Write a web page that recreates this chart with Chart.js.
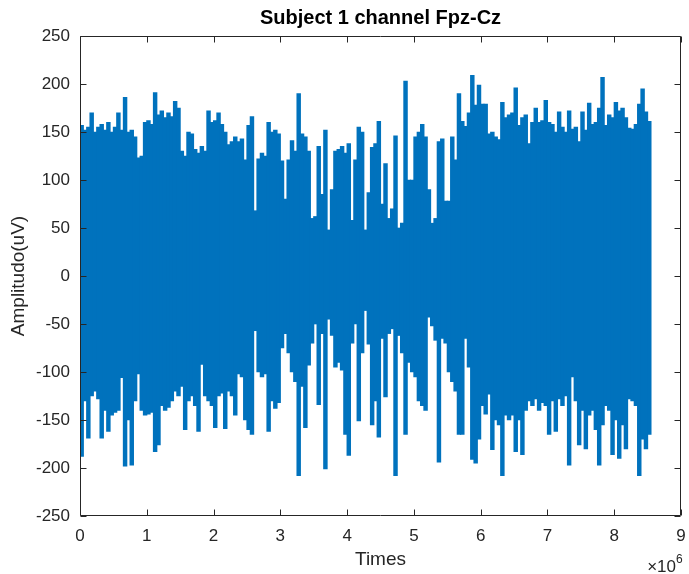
<!DOCTYPE html>
<html>
<head>
<meta charset="utf-8">
<script src="https://cdn.jsdelivr.net/npm/chart.js@4"></script>
<style>
  html, body { margin: 0; padding: 0; background: #fff; }
  #wrap { width: 689px; height: 574px; }
</style>
</head>
<body>
<div id="wrap"><canvas id="chart" width="689" height="574"></canvas></div>
<script>
// EEG trace: per 0.05e6-sample bin, the highest and lowest excursion
const upper = [
  157, 152, 155, 170, 150, 155, 158, 152, 160, 150,
  155, 170, 152, 186, 150, 152, 145, 123, 125, 160,
  162, 158, 191, 168, 172, 165, 170, 166, 182, 175,
  130, 125, 150, 148, 132, 128, 135, 130, 172, 160,
  162, 170, 158, 150, 137, 140, 145, 140, 143, 121,
  157, 166, 68, 122, 128, 125, 160, 150, 152, 148,
  120, 80, 121, 141, 130, 190, 148, 145, 130, 60,
  62, 135, 85, 152, 48, 90, 130, 132, 135, 128,
  138, 58, 121, 155, 150, 48, 87, 134, 138, 161,
  75, 117, 60, 70, 146, 50, 55, 203, 100, 100,
  145, 150, 158, 145, 90, 55, 60, 140, 143, 78,
  78, 145, 121, 190, 161, 156, 170, 209, 178, 199,
  179, 179, 148, 150, 145, 142, 181, 165, 168, 170,
  196, 157, 165, 168, 138, 160, 175, 160, 162, 183,
  160, 158, 150, 171, 155, 150, 172, 153, 155, 140,
  171, 152, 180, 158, 160, 175, 207, 157, 168, 165,
  181, 172, 175, 165, 154, 153, 158, 179, 195, 171, 161
];
const lower = [
  -188, -130, -169, -125, -120, -128, -169, -140, -162, -145,
  -142, -140, -106, -198, -150, -197, -130, -102, -140, -145,
  -144, -142, -183, -176, -135, -140, -137, -130, -120, -125,
  -115, -160, -130, -125, -135, -162, -92, -125, -130, -135,
  -158, -125, -122, -159, -120, -125, -145, -102, -105, -150,
  -160, -165, -57, -100, -105, -102, -162, -130, -138, -132,
  -75, -60, -80, -100, -110, -208, -115, -158, -93, -70,
  -50, -134, -60, -201, -45, -62, -95, -90, -98, -165,
  -187, -70, -50, -151, -80, -36, -71, -155, -130, -168,
  -65, -126, -60, -55, -208, -62, -80, -165, -90, -100,
  -105, -130, -135, -140, -43, -52, -67, -194, -65, -70,
  -100, -110, -120, -165, -165, -65, -95, -191, -195, -170,
  -135, -144, -123, -181, -150, -155, -208, -145, -150, -145,
  -183, -150, -186, -140, -130, -135, -128, -140, -132, -135,
  -165, -130, -162, -128, -135, -125, -197, -105, -130, -176,
  -140, -180, -145, -140, -160, -197, -155, -135, -140, -186,
  -150, -190, -155, -180, -128, -130, -135, -208, -170, -180, -165
];
// bin centre in units of 1e6 samples
const binWidth = 0.05;
const times = upper.map((_, i) => (i + 0.5) * binWidth);

const xTicks = [0, 1, 2, 3, 4, 5, 6, 7, 8, 9];
const yTicks = [-250, -200, -150, -100, -50, 0, 50, 100, 150, 200, 250];

// each bin drawn as one floating bar from its min to its max
const envelope = times.map((t, i) => ({ x: t, y: [lower[i], upper[i]] }));

const FONT = '"Liberation Sans", Arial, Helvetica, sans-serif';
const AXIS = '#262626';

// matlab style box with inward ticks, title and exponent
const matlabFrame = {
  id: 'matlabFrame',
  afterDraw(chart) {
    const { ctx, chartArea: a, scales: { x, y } } = chart;
    ctx.save();
    ctx.strokeStyle = AXIS;
    ctx.lineWidth = 1;
    const L = Math.round(a.left) + 0.5, R = Math.round(a.right) - 0.5;
    const T = Math.round(a.top) + 0.5, B = Math.round(a.bottom) - 0.5;
    ctx.beginPath();
    ctx.rect(L, T, R - L, B - T);
    xTicks.forEach(v => {
      const px = Math.round(x.getPixelForValue(v)) + 0.5;
      ctx.moveTo(px, B); ctx.lineTo(px, B - 6);
      ctx.moveTo(px, T); ctx.lineTo(px, T + 6);
    });
    yTicks.forEach(v => {
      const py = Math.round(y.getPixelForValue(v)) + 0.5;
      ctx.moveTo(L, py); ctx.lineTo(L + 6, py);
      ctx.moveTo(R, py); ctx.lineTo(R - 6, py);
    });
    ctx.stroke();

    ctx.fillStyle = '#000';
    ctx.font = 'bold 20px ' + FONT;
    ctx.textAlign = 'center';
    ctx.textBaseline = 'middle';
    ctx.fillText('Subject 1 channel Fpz-Cz', (a.left + a.right) / 2, 18);

    ctx.fillStyle = AXIS;
    ctx.font = '17px ' + FONT;
    ctx.textAlign = 'right';
    ctx.textBaseline = 'alphabetic';
    ctx.fillText('\u00d710', 676, 572);
    ctx.font = '12px ' + FONT;
    ctx.textAlign = 'left';
    ctx.fillText('6', 676, 563);
    ctx.restore();
  }
};

new Chart(document.getElementById('chart'), {
  type: 'bar',
  data: {
    datasets: [{
      label: 'Fpz-Cz',
      data: envelope,
      backgroundColor: '#0072BD',
      borderWidth: 0,
      barThickness: 3.8,
      grouped: false
    }]
  },
  options: {
    responsive: false,
    animation: false,
    events: [],
    layout: { padding: { top: 36, right: 8, bottom: 0, left: 0 } },
    plugins: {
      legend: { display: false },
      tooltip: { enabled: false }
    },
    scales: {
      x: {
        type: 'linear',
        min: 0,
        max: 9,
        offset: false,
        afterBuildTicks: s => { s.ticks = xTicks.map(v => ({ value: v })); },
        afterFit: s => { s.height = 58; s.paddingRight = 0; s.paddingLeft = 0; },
        grid: { display: false, drawTicks: false },
        border: { display: false },
        ticks: { color: AXIS, padding: 10, font: { family: FONT, size: 17 } },
        title: {
          display: true,
          text: 'Times',
          color: AXIS,
          padding: { top: 4, bottom: 3 },
          font: { family: FONT, size: 19 }
        }
      },
      y: {
        min: -250,
        max: 250,
        afterBuildTicks: s => { s.ticks = yTicks.map(v => ({ value: v })); },
        afterFit: s => { s.width = 80; },
        grid: { display: false, drawTicks: false },
        border: { display: false },
        ticks: { color: AXIS, padding: 10, font: { family: FONT, size: 17 } },
        title: {
          display: true,
          text: 'Amplitudo(uV)',
          color: AXIS,
          padding: { top: 7, bottom: 4 },
          font: { family: FONT, size: 19 }
        }
      }
    }
  },
  plugins: [matlabFrame]
});
</script>
</body>
</html>
